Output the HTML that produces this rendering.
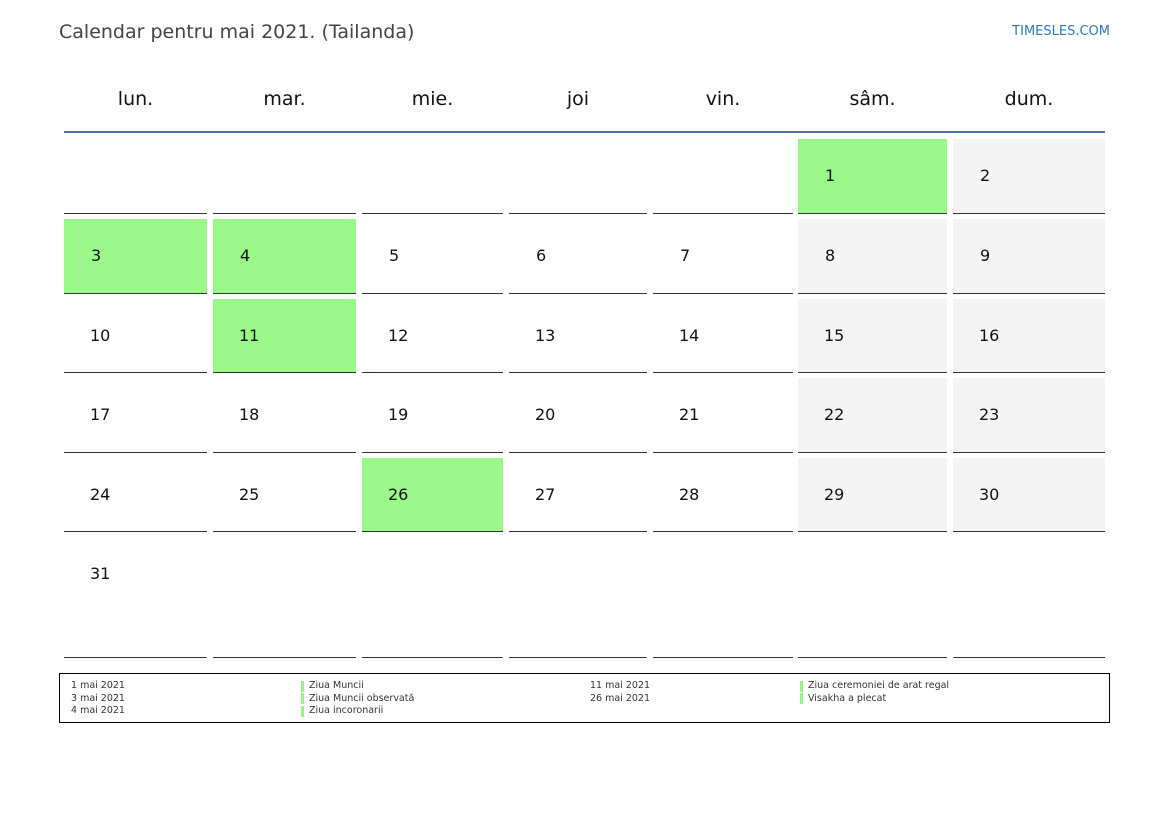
<!DOCTYPE html>
<html><head><meta charset="utf-8"><style>
body{margin:0;width:1169px;height:827px;background:#fff;font-family:"DejaVu Sans","Liberation Sans",sans-serif;position:relative;overflow:hidden}
.a{position:absolute}
.c{position:absolute;border-bottom:1px solid #333;box-sizing:border-box}
.n{position:absolute;font-size:16px;color:#111;line-height:20px}
.h{position:absolute;top:87px;font-size:19px;color:#111;text-align:center;line-height:24px}
.l{position:absolute;font-size:9.5px;color:#333;line-height:12.5px}
.b{position:absolute;width:3px;height:11px;background:#99f58a}
</style></head><body>
<div class="a" style="left:59px;top:21px;font-size:19px;color:#444">Calendar pentru mai 2021. (Tailanda)</div>
<div class="a" style="right:59px;top:24px;font-size:13px;color:#2a7ac0">TIMESLES.COM</div>
<div class="a" style="left:64px;top:131px;width:1041px;height:2px;background:#51739f"></div>
<div id="g"></div>
<div class="a" style="left:59px;top:673px;width:1049px;height:48px;border:1px solid #000"></div>
<div class="l" style="left:71px;top:680px">1 mai 2021<br>3 mai 2021<br>4 mai 2021</div>
<div class="b" style="left:301px;top:681px"></div><div class="b" style="left:301px;top:693px"></div><div class="b" style="left:301px;top:706px"></div>
<div class="l" style="left:309px;top:680px">Ziua Muncii<br>Ziua Muncii observată<br>Ziua incoronarii</div>
<div class="l" style="left:590px;top:680px">11 mai 2021<br>26 mai 2021</div>
<div class="b" style="left:800px;top:681px"></div><div class="b" style="left:800px;top:693px"></div>
<div class="l" style="left:808px;top:680px">Ziua ceremoniei de arat regal<br>Visakha a plecat</div>
<script>
var cols=[[64,207],[213,356],[362,503],[509,647],[653,793],[798,947],[953,1105]];
var rows=[[139,214],[219,294],[299,373],[378,453],[458,532],[537,658]];
var hd=["lun.","mar.","mie.","joi","vin.","sâm.","dum."];
var green={1:1,3:1,4:1,11:1,26:1};
var s="";
for(var i=0;i<7;i++){var c=cols[i];s+='<div class="h" style="left:'+c[0]+'px;width:'+(c[1]-c[0])+'px">'+hd[i]+'</div>';}
for(var r=0;r<6;r++)for(var i=0;i<7;i++){
 var d=r*7+i-4;var c=cols[i],w=rows[r];
 var bg="transparent";
 if(d>=1&&d<=31){if(green[d])bg="#99f888";else if(i>=5)bg="#f4f4f4";}
 s+='<div class="c" style="left:'+c[0]+'px;top:'+w[0]+'px;width:'+(c[1]-c[0])+'px;height:'+(w[1]-w[0])+'px;background:'+bg+'"></div>';
 if(d>=1&&d<=31){var x=c[0]+(d<10?27:26);s+='<div class="n" style="left:'+x+'px;top:'+(w[0]+27)+'px">'+d+'</div>';}
}
document.getElementById("g").innerHTML=s;
</script>
</body></html>
